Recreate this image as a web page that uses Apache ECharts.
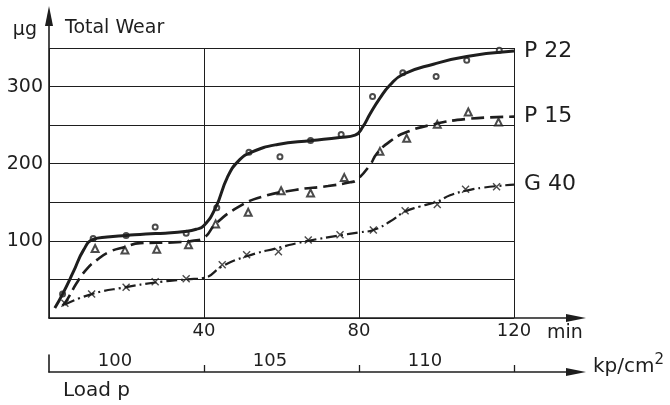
<!DOCTYPE html>
<html>
<head>
<meta charset="utf-8">
<script src="https://cdn.jsdelivr.net/npm/echarts@6/dist/echarts.min.js"></script>
<style>
  html, body { margin: 0; padding: 0; background: #fff; }
  #chart { width: 670px; height: 405px; }
</style>
</head>
<body>
<div id="chart"></div>
<script>
// time axis (min) and wear axis (µg)
var timeTicks = [40, 80, 120];
var wearTicks = [100, 200, 300];

// load stages: each lasts 40 min
var loadLevels = ['100', '105', '110'];
var loadStageStart = [0, 40, 80];
var loadStageEnd = [40, 80, 120];

// fitted curves [min, µg]
var curveP22 = [[1.5, 13], [3.5, 31], [6.3, 60], [8.9, 88], [11.4, 102], [15, 105], [20, 107], [25, 109],
    [30, 110], [35, 112], [38, 115], [40, 120], [43, 143], [46, 182], [48.8, 203], [52.3, 215], [59, 225],
    [67.8, 230], [75, 234], [79, 237], [81, 248], [82.8, 264], [85.4, 285], [88, 302], [91.4, 316],
    [99.2, 329], [107.8, 339], [120, 346]];
var curveP15 = [[3.5, 16], [4.6, 23], [7.1, 45], [9.5, 62], [12.3, 75], [15.7, 86], [19.6, 92], [23.5, 97],
    [32, 98], [37, 100], [40, 104], [43, 122], [48.9, 144], [54.9, 157], [63.5, 166], [72, 171],
    [77.7, 176], [79.4, 179], [82.8, 198], [84.6, 213], [88, 229], [92.3, 241], [99.2, 251],
    [107.8, 258], [120, 261]];
var curveG40 = [[4, 17], [11, 31], [19.9, 40], [27.4, 46], [35.4, 50], [40, 52], [44.7, 67], [51, 80],
    [59.2, 91], [66.9, 100], [75, 107], [80, 111], [83.7, 114], [88, 125], [91.9, 138], [95.7, 144.5],
    [100.2, 151], [103.5, 159], [107.6, 165], [112.1, 169], [120, 173]];

// measured points [min, µg]
var pointsP22 = [[3.5, 31], [11.4, 103], [19.9, 107], [27.4, 118], [35.4, 110], [43.3, 143], [51.6, 215],
    [59.6, 209], [67.5, 230], [75.4, 238], [83.5, 287], [91.3, 318], [99.9, 313], [107.8, 334], [116.2, 347]];
var pointsP15 = [[11.9, 90], [19.6, 88], [27.8, 89], [36, 95], [43, 122], [51.4, 137], [59.9, 165],
    [67.5, 162], [76.2, 182], [85.4, 216], [92.3, 233], [100.2, 251], [108.2, 267], [116, 254]];
var pointsG40 = [[4.1, 19], [11, 31], [19.9, 40], [27.4, 47], [35.4, 51], [44.7, 69], [51, 82], [59.2, 86],
    [66.9, 101], [75.1, 108], [83.7, 114], [91.9, 139], [100.2, 147], [107.5, 167], [115.5, 170]];

var ink = '#1e1e1e';
var font = 'DejaVu Sans';

var loadMid = loadStageStart.map(function (s, i) { return (s + loadStageEnd[i]) / 2; });

var chart = echarts.init(document.getElementById('chart'));

var arrow = {
    show: true,
    symbol: ['none', 'triangle'],
    symbolSize: [8, 20],
    lineStyle: { color: ink, width: 1.6 }
};

var option = {
    animation: false,
    backgroundColor: '#fff',
    textStyle: { fontFamily: font, color: ink },
    grid: [
        { left: 49, right: 156, top: 48, bottom: 87 },   // plot with grid lines
        { left: 49, right: 94, top: 16, bottom: 87 },    // arrow axes
        { left: 49, right: 94, top: 355, bottom: 33 }    // load axis
    ],
    xAxis: [
        {
            gridIndex: 0, type: 'value', min: 0, max: 120, interval: 40,
            axisLine: { show: false }, axisTick: { show: false },
            axisLabel: { customValues: timeTicks, fontSize: 18, color: ink, margin: 4, fontFamily: font },
            splitLine: { show: true, lineStyle: { color: ink, width: 1 } }
        },
        {
            gridIndex: 1, type: 'value', min: 0, max: 136,
            axisLine: arrow, axisTick: { show: false }, axisLabel: { show: false }, splitLine: { show: false },
            name: 'min', nameLocation: 'end', nameGap: -29,
            nameTextStyle: { fontSize: 19, color: ink, fontFamily: font, align: 'left', verticalAlign: 'top', padding: [6, 0, 0, 0] }
        },
        {
            gridIndex: 2, type: 'value', min: 0, max: 136,
            axisLine: arrow,
            axisTick: { show: true, inside: true, length: 7, customValues: loadStageEnd, lineStyle: { color: ink, width: 1.3 } },
            axisLabel: {
                inside: true, margin: 2, customValues: loadMid, fontSize: 18, color: ink, fontFamily: font,
                padding: [0, 23, 0, 0],
                formatter: function (v) { return loadLevels[loadMid.indexOf(v)]; }
            },
            splitLine: { show: false },
            name: 'kp/cm{s|2}', nameLocation: 'end', nameGap: 17,
            nameTextStyle: {
                fontSize: 20, color: ink, fontFamily: font, align: 'left', verticalAlign: 'middle',
                padding: [0, 0, 10, 0],
                rich: { s: { fontSize: 15, fontFamily: font, color: ink, padding: [0, 0, 14, 0] } }
            }
        }
    ],
    yAxis: [
        {
            gridIndex: 0, type: 'value', min: 0, max: 350, interval: 50,
            axisLine: { show: false }, axisTick: { show: false },
            axisLabel: { customValues: wearTicks, fontSize: 19, color: ink, margin: 6, fontFamily: font },
            splitLine: { show: true, lineStyle: { color: ink, width: 1 } },
            name: 'Total Wear', nameLocation: 'end', nameGap: 20,
            nameTextStyle: { fontSize: 19, color: ink, fontFamily: font, align: 'left', verticalAlign: 'middle', padding: [0, 0, 0, 16] }
        },
        {
            gridIndex: 1, type: 'value', min: 0, max: 392,
            axisLine: arrow, axisTick: { show: false }, axisLabel: { show: false }, splitLine: { show: false },
            name: 'µg', nameLocation: 'end', nameGap: -14,
            nameTextStyle: { fontSize: 19, color: ink, fontFamily: font, align: 'right', verticalAlign: 'middle', padding: [0, 12, 0, 0] }
        },
        {
            gridIndex: 2, type: 'value', min: 0, max: 1,
            axisLine: { show: true, lineStyle: { color: ink, width: 1.6 } },
            axisTick: { show: false }, axisLabel: { show: false }, splitLine: { show: false },
            name: 'Load p', nameLocation: 'start', nameGap: 19,
            nameTextStyle: { fontSize: 20, color: ink, fontFamily: font, align: 'left', verticalAlign: 'middle', padding: [0, 0, 0, 14] }
        }
    ],
    series: [
        {
            name: 'P 22', type: 'line', data: curveP22, smooth: 0.5, showSymbol: false,
            lineStyle: { color: ink, width: 3 },
            endLabel: { show: true, formatter: '{a}', distance: 10, fontSize: 22, color: ink, fontFamily: font }
        },
        {
            name: 'P 15', type: 'line', data: curveP15, smooth: 0.5, showSymbol: false,
            lineStyle: { color: ink, width: 2.6, type: [13, 6] },
            endLabel: { show: true, formatter: '{a}', distance: 10, fontSize: 22, color: ink, fontFamily: font }
        },
        {
            name: 'G 40', type: 'line', data: curveG40, smooth: 0.5, showSymbol: false,
            lineStyle: { color: ink, width: 2.2, type: [11, 4, 2, 4] },
            endLabel: { show: true, formatter: '{a}', distance: 10, fontSize: 22, color: ink, fontFamily: font }
        },
        {
            name: 'P 22 points', type: 'scatter', data: pointsP22, symbol: 'emptyCircle', symbolSize: 5,
            itemStyle: { color: ink, borderWidth: 1.3 }
        },
        {
            name: 'P 15 points', type: 'scatter', data: pointsP15, symbol: 'emptyTriangle', symbolSize: 7,
            itemStyle: { color: ink, borderWidth: 1.3 }
        },
        {
            name: 'G 40 points', type: 'scatter', data: pointsG40, symbol: 'path://M0,0L10,10M10,0L0,10', symbolSize: 7,
            itemStyle: { color: 'transparent', borderColor: ink, borderWidth: 1.4 }
        }
    ]
};

chart.setOption(option);
window.addEventListener('resize', function () {
    chart.resize();
});
</script>
</body>
</html>
